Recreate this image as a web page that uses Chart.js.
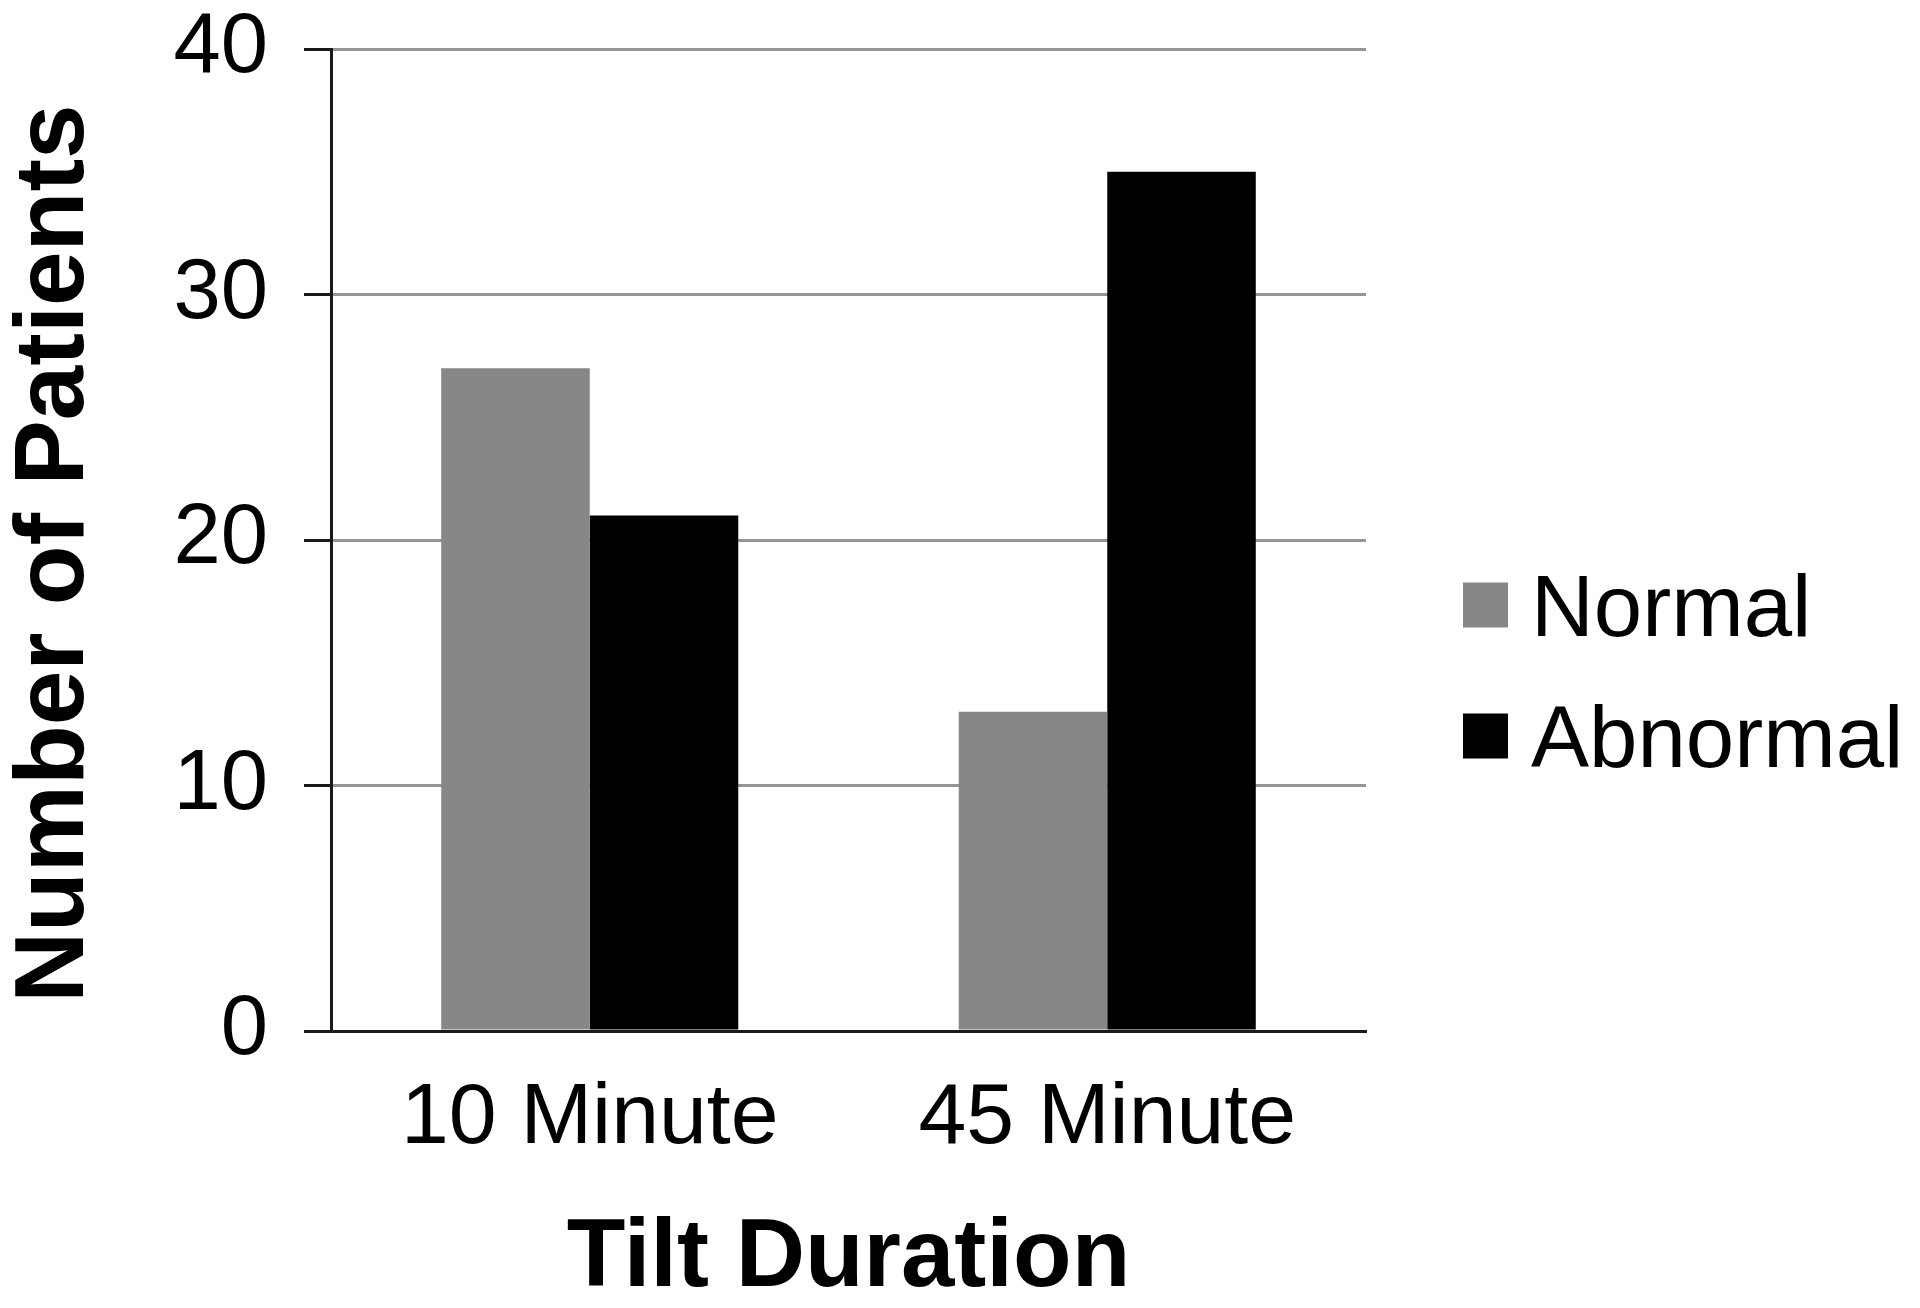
<!DOCTYPE html>
<html>
<head>
<meta charset="utf-8">
<script src="https://cdn.jsdelivr.net/npm/chart.js@4.4.1/dist/chart.umd.min.js"></script>
<style>
  html, body { margin: 0; padding: 0; background: #ffffff; }
  #wrap { width: 1920px; height: 1308px; }
</style>
</head>
<body>
<div id="wrap"><canvas id="c" width="1920" height="1308"></canvas></div>
<script>
const categories = ['10 Minute', '45 Minute'];
const normalValues = [27, 13];
const abnormalValues = [21, 35];
const seriesNames = ['Normal', 'Abnormal'];
const yTicks = [0, 10, 20, 30, 40];

const FONT = '"Liberation Sans", Arial, Helvetica, sans-serif';

const legendPlugin = {
  id: 'sideLegend',
  afterDraw(chart) {
    const ctx = chart.ctx;
    const rows = [605, 736];
    ctx.save();
    chart.data.datasets.forEach((ds, i) => {
      const cy = rows[i];
      ctx.fillStyle = ds.backgroundColor;
      ctx.fillRect(1463, cy - 22.5, 45, 45);
      ctx.fillStyle = '#000';
      ctx.font = '87px ' + FONT;
      ctx.textBaseline = 'alphabetic';
      ctx.textAlign = 'left';
      ctx.fillText(ds.label, 1531, cy + 31);
    });
    ctx.restore();
  }
};

new Chart(document.getElementById('c'), {
  type: 'bar',
  data: {
    labels: categories,
    datasets: [
      { label: seriesNames[0], data: normalValues, backgroundColor: '#878787', borderWidth: 0 },
      { label: seriesNames[1], data: abnormalValues, backgroundColor: '#000000', borderWidth: 0 }
    ]
  },
  options: {
    responsive: false,
    animation: false,
    devicePixelRatio: 1,
    layout: { padding: { top: 49, right: 554, bottom: 0, left: 0 } },
    plugins: {
      legend: { display: false },
      tooltip: { enabled: false }
    },
    datasets: { bar: { categoryPercentage: 0.574, barPercentage: 1.0 } },
    scales: {
      x: {
        grid: { display: false },
        border: { display: true, color: '#1a1a1a', width: 3 },
        ticks: {
          color: '#000',
          font: { family: FONT, size: 86, lineHeight: 1.2 },
          padding: 29,
          maxRotation: 0
        },
        title: {
          display: true,
          text: 'Tilt Duration',
          color: '#000',
          font: { family: FONT, size: 96, weight: 'bold', lineHeight: 1.0 },
          padding: { top: 7, bottom: 0 }
        },
        afterFit(scale) { scale.height = 277; scale.paddingLeft = 0; scale.paddingRight = 0; }
      },
      y: {
        min: 0,
        max: 40,
        afterBuildTicks(scale) { scale.ticks = yTicks.map(v => ({ value: v })); },
        grid: {
          color: '#959595',
          lineWidth: 3,
          tickColor: '#1a1a1a',
          tickLength: 27,
          drawTicks: true
        },
        border: { display: true, color: '#1a1a1a', width: 3 },
        ticks: {
          color: '#000',
          font: { family: FONT, size: 85, lineHeight: 1.0 },
          padding: 36
        },
        title: {
          display: true,
          text: 'Number of Patients ',
          color: '#000',
          font: { family: FONT, size: 98, weight: 'bold', lineHeight: 1.0 },
          padding: { top: 7, bottom: 0 }
        },
        afterFit(scale) { scale.width = 331; scale.paddingTop = 0; scale.paddingBottom = 0; }
      }
    }
  },
  plugins: [legendPlugin]
});
</script>
</body>
</html>
